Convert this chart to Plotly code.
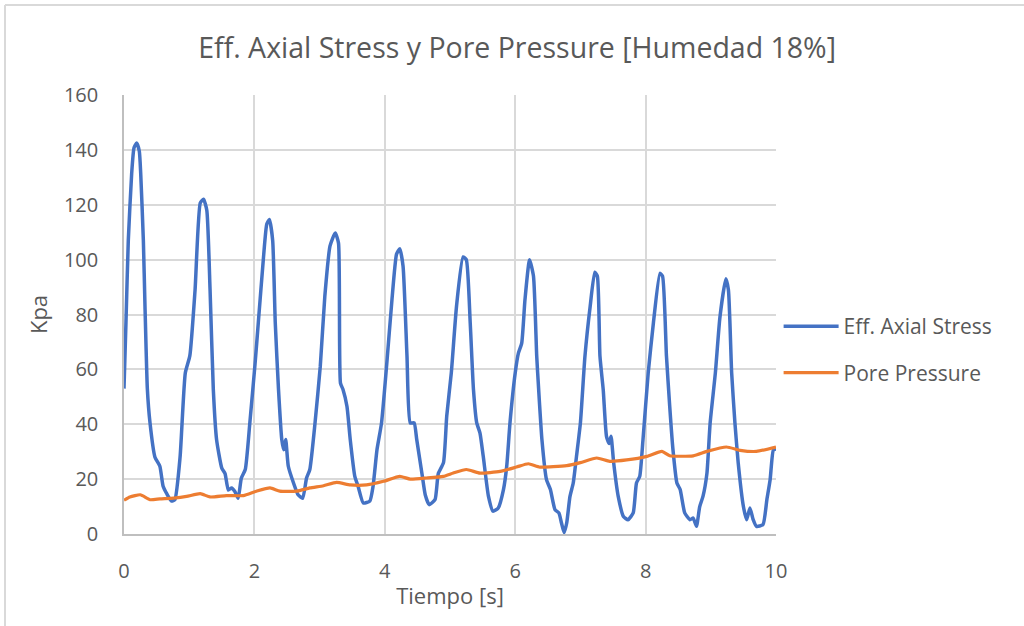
import plotly.graph_objects as go

# ---- data ----
t_axial = [0, 0.03, 0.066, 0.118, 0.153, 0.194, 0.235, 0.256, 0.297, 0.322, 0.358, 0.399, 0.475, 0.55, 0.60, 0.66, 0.73, 0.78,
           0.86, 0.94, 1.01, 1.09, 1.17, 1.22, 1.27, 1.32, 1.37, 1.42, 1.50, 1.55, 1.60, 1.65, 1.70, 1.75, 1.80, 1.86,
           1.93, 2.01, 2.06, 2.14, 2.19, 2.23, 2.28, 2.32, 2.37, 2.42, 2.45, 2.48, 2.52, 2.60, 2.67, 2.74, 2.80, 2.85,
           2.93, 3.01, 3.08, 3.16, 3.24, 3.29, 3.32, 3.36, 3.42, 3.47, 3.54, 3.59, 3.67, 3.77, 3.82, 3.88, 3.95, 4.03,
           4.11, 4.18, 4.23, 4.28, 4.34, 4.39, 4.45, 4.49, 4.57, 4.62, 4.68, 4.77, 4.82, 4.90, 4.95, 5.02, 5.10, 5.20,
           5.25, 5.31, 5.36, 5.41, 5.46, 5.51, 5.59, 5.66, 5.74, 5.82, 5.87, 5.92, 6.00, 6.05, 6.10, 6.15, 6.22, 6.28,
           6.33, 6.36, 6.41, 6.48, 6.54, 6.61, 6.67, 6.71, 6.75, 6.79, 6.84, 6.89, 6.94, 7.00, 7.07, 7.15, 7.22, 7.26,
           7.30, 7.35, 7.40, 7.44, 7.47, 7.51, 7.58, 7.66, 7.73, 7.81, 7.86, 7.91, 7.96, 8.04, 8.12, 8.22, 8.26, 8.32,
           8.37, 8.42, 8.48, 8.53, 8.60, 8.68, 8.73, 8.78, 8.83, 8.88, 8.94, 8.99, 9.07, 9.14, 9.23, 9.27, 9.32, 9.37,
           9.42, 9.50, 9.55, 9.60, 9.65, 9.70, 9.80, 9.86, 9.91, 9.96, 10.0]
axial_stress = [53, 77, 107, 131.5, 140.7, 142.5, 139.5, 131.5, 107, 83, 53, 40.5, 28, 24.7, 17.4, 14.5, 12, 12.5,
                28, 58.7, 65, 89, 120.7, 122, 118, 89, 52.6, 34.4, 24, 22, 16, 16.8, 15.5, 13, 20.4, 23.5,
                40.5, 62, 77, 101, 113, 114.6, 107, 77, 52.6, 34.4, 30.7, 34.4, 24.7, 18.6, 14.3, 13, 20.4, 23.5,
                40.5, 61, 86.6, 105, 109.7, 106, 55, 52.6, 46.5, 34.4, 21, 17.4, 11.3, 12, 17.4, 30.7, 40.5, 62,
                85.4, 102, 104, 97.6, 65, 40.5, 40.5, 34.4, 22, 14.3, 10.7, 12.5, 22, 26, 43, 58.7, 83, 101,
                100, 77, 52.6, 40.5, 36.8, 28.3, 13.7, 8.3, 9.5, 16.2, 24.7, 40.5, 58.7, 66, 69.6, 85.4, 100, 94,
                64.8, 52.6, 34.4, 19.8, 16.2, 8.9, 7.7, 4, 0.5, 4, 13.7, 18.6, 28.3, 40.5, 64.8, 83, 95.4, 94,
                64.8, 52.6, 35.6, 33, 35.6, 26, 13.7, 6.4, 5.2, 7.7, 18.6, 21, 34.4, 58.7, 77, 95, 94, 64.8,
                46.5, 30.7, 18.6, 16.2, 7.7, 5.2, 5.8, 2.8, 10, 13.7, 22, 40.5, 58.7, 79, 93, 89, 58.7, 40.5,
                26, 10, 5.2, 9.5, 5.2, 2.8, 3.4, 12.5, 19.8, 30.7, 31]

t_pore = [0, 0.09, 0.25, 0.40, 0.55, 0.76, 0.96, 1.17, 1.32, 1.57, 1.83, 2.03, 2.24, 2.39, 2.65, 2.85, 3.06, 3.26,
          3.47, 3.72, 3.98, 4.23, 4.39, 4.64, 4.90, 5.05, 5.25, 5.46, 5.77, 6.02, 6.20, 6.38, 6.79, 7.00, 7.25,
          7.45, 7.71, 8.02, 8.25, 8.37, 8.73, 8.94, 9.24, 9.45, 9.70, 10.0]
pore_pressure = [12.3, 13.5, 14.3, 12.5, 12.8, 13.1, 13.7, 14.7, 13.5, 14, 14, 15.6, 16.8, 15.6, 15.6, 16.8, 17.6, 18.8,
                 17.9, 17.9, 19.2, 21, 20, 20.4, 21, 22.2, 23.5, 22.2, 22.8, 24.4, 25.6, 24.4, 24.9, 26, 27.7,
                 26.5, 27, 28.3, 30.1, 28.5, 28.5, 30.1, 31.7, 30.5, 30.1, 31.7]

x_ticks = [0, 2, 4, 6, 8, 10]
y_ticks = [0, 20, 40, 60, 80, 100, 120, 140, 160]

FONT = "Open Sans"
GRAY = "#595959"
GRID = "#d9d9d9"

fig = go.Figure()
fig.add_trace(go.Scatter(x=t_axial, y=axial_stress, mode="lines", name="Eff. Axial Stress",
                         line=dict(color="#4472C4", width=3.5, shape="spline", smoothing=0.5),
                         legendgroup="a"))
fig.add_trace(go.Scatter(x=t_pore, y=pore_pressure, mode="lines", name="Pore Pressure",
                         line=dict(color="#ED7D31", width=3.2, shape="spline", smoothing=0.5),
                         legendgroup="b"))

fig.update_layout(
    width=1024, height=626,
    margin=dict(l=124, r=248, t=95, b=92),
    paper_bgcolor="white", plot_bgcolor="white",
    font=dict(family=FONT, color=GRAY, size=19),
    title=dict(text="Eff. Axial Stress y Pore Pressure [Humedad 18%]",
               x=0.505, xanchor="center", y=1 - 48 / 626, yanchor="middle", yref="container",
               font=dict(family=FONT, size=28.5, color=GRAY)),
    legend=dict(x=1.004, xanchor="left", y=0.42, yanchor="middle",
                font=dict(family=FONT, size=21, color=GRAY), itemwidth=55,
                tracegroupgap=16, bgcolor="rgba(0,0,0,0)"),
    xaxis=dict(range=[0, 10], tickvals=x_ticks, showgrid=True, gridcolor=GRID, gridwidth=1.5,
               showline=True, linecolor="#bfbfbf", linewidth=1.5, zeroline=False,
               ticks="", ticklabelstandoff=18, tickfont=dict(size=20),
               title=dict(text="Tiempo [s]", standoff=6, font=dict(size=22))),
    yaxis=dict(range=[0, 160], tickvals=y_ticks, showgrid=True, gridcolor=GRID, gridwidth=1.5,
               showline=True, linecolor="#bfbfbf", linewidth=1.5, zeroline=False,
               ticks="", ticklabelstandoff=20, tickfont=dict(size=20),
               title=dict(text="Kpa", standoff=10, font=dict(size=22))),
    shapes=[
        dict(type="line", xref="paper", yref="paper", x0=(5 - 124) / 652, x1=(5 - 124) / 652,
             y0=(534 - 5) / 439, y1=(534 - 640) / 439, line=dict(color=GRID, width=2)),
        dict(type="line", xref="paper", yref="paper", x0=(5 - 124) / 652, x1=(1040 - 124) / 652,
             y0=(534 - 5) / 439, y1=(534 - 5) / 439, line=dict(color=GRID, width=2)),
    ],
)

fig.write_html("out.html", config={"displayModeBar": False},
               post_script="document.body.style.margin='0px';")
